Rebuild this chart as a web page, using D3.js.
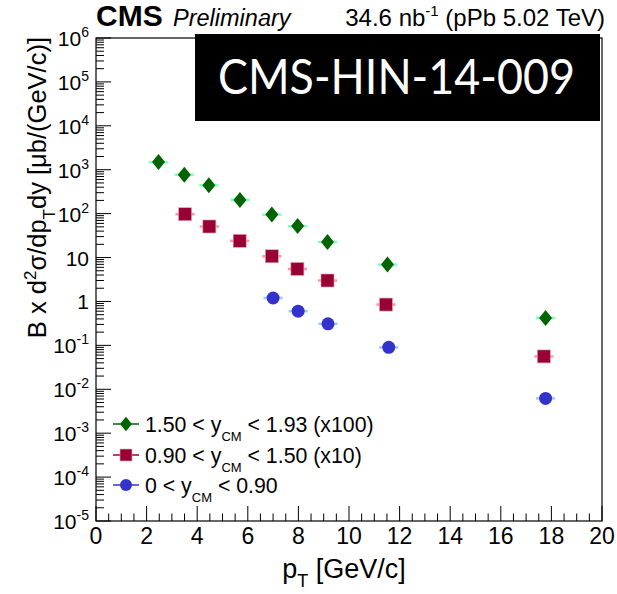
<!DOCTYPE html>
<html>
<head>
<meta charset="utf-8">
<script src="https://cdn.jsdelivr.net/npm/d3@7"></script>
<style>
  body { margin: 0; background: #fff; }
  text { font-family: "Liberation Sans", Arial, sans-serif; }
</style>
</head>
<body>
<div id="chart"></div>
<script>
// pT bin centres and values (already scaled as in the legend)
var ptHigh = [2.47, 3.49, 4.46, 5.69, 6.95, 7.97, 9.15, 11.52, 17.77];
var valHigh = [1490, 770, 445, 205, 95, 52, 22.5, 6.9, 0.42];

var ptMid = [3.52, 4.48, 5.68, 6.95, 7.96, 9.15, 11.46, 17.7];
var valMid = [97, 51, 24, 10.7, 5.5, 3.0, 0.85, 0.056];

var ptLow = [7.0, 7.99, 9.17, 11.57, 17.77];
var valLow = [1.2, 0.6, 0.31, 0.09, 0.0062];

var xErr = 0.38;

var legendNames = [["1.50 < y", " < 1.93 (x100)"], ["0.90 < y", " < 1.50 (x10)"], ["0 < y", " < 0.90"]];
var xTicks = [0, 2, 4, 6, 8, 10, 12, 14, 16, 18, 20];
var yExps = [-5, -4, -3, -2, -1, 0, 1, 2, 3, 4, 5, 6];

var width = 617, height = 594;

var svg = d3.select("#chart")
    .append("svg")
    .attr("width", width)
    .attr("height", height);

var x = d3.scaleLinear().domain([0, 20]).range([96, 602]);
var y = d3.scaleLog().domain([1e-5, 1e6]).range([521, 38]);

// frame
svg.append("rect")
    .attr("x", x(0)).attr("y", y(1e6))
    .attr("width", x(20) - x(0)).attr("height", y(1e-5) - y(1e6))
    .attr("fill", "none").attr("stroke", "#000").attr("stroke-width", 1.2);

// x ticks: major every 2, minor every 0.5
d3.range(0, 20.01, 0.5).forEach(function (v) {
    var major = Math.abs(v / 2 - Math.round(v / 2)) < 1e-6;
    svg.append("line")
        .attr("x1", x(v)).attr("x2", x(v))
        .attr("y1", y(1e-5)).attr("y2", y(1e-5) - (major ? 15 : 7.5))
        .attr("stroke", "#000").attr("stroke-width", 1);
});

svg.selectAll(".xlab")
    .data(xTicks)
    .enter()
    .append("text")
    .attr("x", function (d) { return x(d); })
    .attr("y", 544)
    .attr("text-anchor", "middle")
    .style("font-size", "23px")
    .text(function (d) { return d; });

// y ticks: major each decade, minor 2..9
yExps.forEach(function (e) {
    svg.append("line")
        .attr("x1", x(0)).attr("x2", x(0) + 15)
        .attr("y1", y(Math.pow(10, e))).attr("y2", y(Math.pow(10, e)))
        .attr("stroke", "#000").attr("stroke-width", 1);
    if (e < 6) {
        for (var k = 2; k <= 9; k++) {
            var v = k * Math.pow(10, e);
            svg.append("line")
                .attr("x1", x(0)).attr("x2", x(0) + 8)
                .attr("y1", y(v)).attr("y2", y(v))
                .attr("stroke", "#000").attr("stroke-width", 1);
        }
    }
});

yExps.forEach(function (e) {
    var t = svg.append("text")
        .attr("x", 89)
        .attr("y", y(Math.pow(10, e)) + 8)
        .attr("text-anchor", "end")
        .style("font-size", "21px");
    if (e == 0) t.text("1");
    else if (e == 1) t.text("10");
    else {
        t.append("tspan").text("10");
        t.append("tspan").attr("dy", -9).style("font-size", "14px").text(e);
    }
});

// error bars + markers
var series = [
    { pt: ptHigh, val: valHigh, col: "#006400", err: "#7fffbf", shape: "diamond" },
    { pt: ptMid, val: valMid, col: "#990033", err: "#ff9999", shape: "square" },
    { pt: ptLow, val: valLow, col: "#3333cc", err: "#99ccff", shape: "circle" }
];

function drawMarker(g, shape, col, cx, cy, s) {
    if (shape == "diamond") {
        g.append("path")
            .attr("d", "M" + cx + "," + (cy - 8 * s) + "L" + (cx + 6.5 * s) + "," + cy +
                "L" + cx + "," + (cy + 8 * s) + "L" + (cx - 6.5 * s) + "," + cy + "Z")
            .attr("fill", col);
    } else if (shape == "square") {
        g.append("rect")
            .attr("x", cx - 6.5 * s).attr("y", cy - 6.5 * s)
            .attr("width", 13 * s).attr("height", 13 * s)
            .attr("fill", col).attr("stroke", "#e8a0b4").attr("stroke-width", 0.6);
    } else {
        g.append("circle")
            .attr("cx", cx).attr("cy", cy).attr("r", 6.5 * s)
            .attr("fill", col);
    }
}

series.forEach(function (s) {
    var g = svg.append("g");
    s.pt.forEach(function (p, i) {
        g.append("line")
            .attr("x1", x(p - xErr)).attr("x2", x(p + xErr))
            .attr("y1", y(s.val[i])).attr("y2", y(s.val[i]))
            .attr("stroke", s.err).attr("stroke-width", 2.5);
    });
    s.pt.forEach(function (p, i) {
        drawMarker(g, s.shape, s.col, x(p), y(s.val[i]), 1);
    });
});

// legend
var legY = [424, 455, 485];
series.forEach(function (s, i) {
    svg.append("line")
        .attr("x1", 113).attr("x2", 139)
        .attr("y1", legY[i]).attr("y2", legY[i])
        .attr("stroke", s.col).attr("stroke-width", 1.5);
    drawMarker(svg, s.shape, s.col, 126, legY[i], 0.92);
    var t = svg.append("text")
        .attr("x", 145).attr("y", legY[i] + 7.5)
        .style("font-size", "21.3px");
    t.append("tspan").text(legendNames[i][0]);
    t.append("tspan").attr("dy", 9).style("font-size", "13px").text("CM");
    t.append("tspan").attr("dy", -9).text(legendNames[i][1]);
});

// axis titles
var xt = svg.append("text")
    .attr("x", 344).attr("y", 578)
    .attr("text-anchor", "middle")
    .style("font-size", "27px");
xt.append("tspan").text("p");
xt.append("tspan").attr("dy", 9).style("font-size", "18px").text("T");
xt.append("tspan").attr("dy", -9).text(" [GeV/c]");

var yt = svg.append("text")
    .attr("transform", "translate(46,37) rotate(-90)")
    .attr("text-anchor", "end")
    .style("font-size", "25.5px");
yt.append("tspan").text("B x d");
yt.append("tspan").attr("dy", -10).style("font-size", "17px").text("2");
yt.append("tspan").attr("dy", 10).text("σ/dp");
yt.append("tspan").attr("dy", 9).style("font-size", "17px").text("T");
yt.append("tspan").attr("dy", -9).text("dy [μb/(GeV/c)]");

// header
svg.append("text")
    .attr("x", 96).attr("y", 26)
    .style("font-size", "30px").style("font-weight", "bold")
    .text("CMS");
svg.append("text")
    .attr("x", 173).attr("y", 26)
    .style("font-size", "23.5px").style("font-style", "italic")
    .text("Preliminary");
var lumi = svg.append("text")
    .attr("x", 605).attr("y", 26)
    .attr("text-anchor", "end")
    .style("font-size", "24px");
lumi.append("tspan").text("34.6 nb");
lumi.append("tspan").attr("dy", -10).style("font-size", "15px").text("-1");
lumi.append("tspan").attr("dy", 10).text(" (pPb 5.02 TeV)");

// label box
svg.append("rect")
    .attr("x", 195).attr("y", 34)
    .attr("width", 405).attr("height", 87)
    .attr("fill", "#000");
svg.append("text")
    .attr("x", 218).attr("y", 94)
    .attr("textLength", 357)
    .attr("lengthAdjust", "spacingAndGlyphs")
    .style("font-family", "Lato, 'Open Sans', sans-serif")
    .style("font-size", "49px")
    .attr("fill", "#fff")
    .text("CMS-HIN-14-009");
</script>
</body>
</html>
